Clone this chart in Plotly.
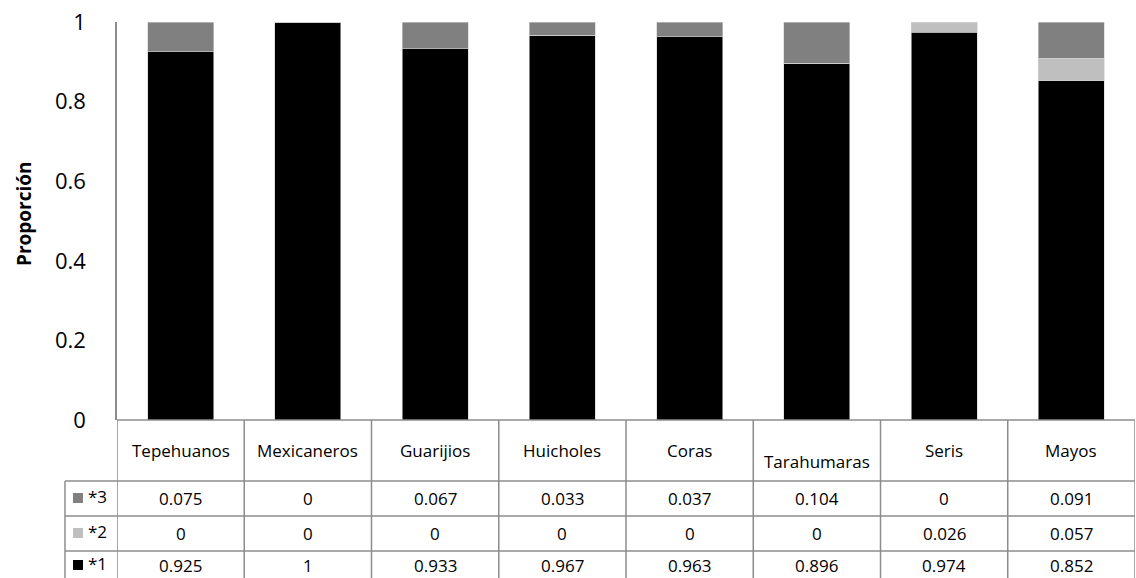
import plotly.graph_objects as go

# Groups and the proportion of each class within them
categories = ["Tepehuanos", "Mexicaneros", "Guarijios", "Huicholes",
              "Coras", "Tarahumaras", "Seris", "Mayos"]
series_names = ["*3", "*2", "*1"]
values_3 = [0.075, 0, 0.067, 0.033, 0.037, 0.104, 0, 0.091]
values_2 = [0, 0, 0, 0, 0, 0, 0.026, 0.057]
values_1 = [0.925, 1, 0.933, 0.967, 0.963, 0.896, 0.974, 0.852]
y_ticks = [0, 0.2, 0.4, 0.6, 0.8, 1]
y_tick_labels = ["0", "0.2", "0.4", "0.6", "0.8", "1"]

colors = {"*1": "#000000", "*2": "#bfbfbf", "*3": "#808080"}

W, H = 1136, 578
M_L, M_R, M_T, M_B = 117, 1, 22, 158
PLOT_H = H - M_T - M_B
FONT = "Open Sans"
TABLE_SIZE = 17
GRID = "#8c8c8c"


def py(pixel_y):
    """Page pixel row -> paper y coordinate."""
    return (H - M_B - pixel_y) / PLOT_H


def px(pixel_x):
    return (pixel_x - M_L) / (W - M_L - M_R)


fig = go.Figure()
for name, vals in [("*1", values_1), ("*2", values_2), ("*3", values_3)]:
    fig.add_trace(go.Bar(
        x=categories, y=vals, name=name,
        marker=dict(color=colors[name], line=dict(color="#d0d0d0", width=0.6)),
        showlegend=False, hoverinfo="x+y+name",
    ))

shapes = []
annotations = []

# table rows (page pixel rows)
header_top, header_bot = 420, 481
row_edges = [481, 516, 551, 586]
row_text_y = [498, 533, 565]
n = len(categories)

# horizontal lines across the data columns
for yy in [header_top] + row_edges[:-1]:
    shapes.append(dict(type="line", xref="x", yref="paper",
                       x0=-0.5, x1=n - 0.5, y0=py(yy), y1=py(yy),
                       line=dict(color=GRID, width=1.5)))
# legend-column horizontal lines
for yy in row_edges[:-1]:
    shapes.append(dict(type="line", xref="paper", yref="paper",
                       x0=px(65), x1=0, y0=py(yy), y1=py(yy),
                       line=dict(color=GRID, width=1.5)))
shapes.append(dict(type="line", xref="paper", yref="paper",
                   x0=px(65), x1=px(65), y0=py(row_edges[0]), y1=py(row_edges[-1]),
                   line=dict(color=GRID, width=1.5)))
# vertical column lines
for i in range(n + 1):
    shapes.append(dict(type="line", xref="x", yref="paper",
                       x0=i - 0.5, x1=i - 0.5, y0=py(header_top), y1=py(row_edges[-1]),
                       line=dict(color=GRID, width=1.5)))

# header labels
for i, c in enumerate(categories):
    yc = 461 if c == "Tarahumaras" else 450
    annotations.append(dict(x=c, xref="x", y=py(yc), yref="paper", text=c,
                            showarrow=False, xanchor="center", yanchor="middle",
                            font=dict(family=FONT, size=TABLE_SIZE, color="#000000")))

# value rows with legend keys
row_series = [("*3", values_3), ("*2", values_2), ("*1", values_1)]
for r, (name, vals) in enumerate(row_series):
    yc = row_text_y[r]
    for i, c in enumerate(categories):
        annotations.append(dict(x=c, xref="x", y=py(yc), yref="paper",
                                text=f"{vals[i]:g}", showarrow=False,
                                xanchor="center", yanchor="middle",
                                font=dict(family=FONT, size=TABLE_SIZE, color="#000000")))
    shapes.append(dict(type="rect", xref="paper", yref="paper",
                       x0=px(73), x1=px(83), y0=py(yc - 5), y1=py(yc + 5),
                       fillcolor=colors[name], line=dict(width=0)))
    annotations.append(dict(x=px(86), xref="paper", y=py(yc - 2), yref="paper",
                            text=name, showarrow=False, xanchor="left",
                            yanchor="middle",
                            font=dict(family=FONT, size=TABLE_SIZE, color="#000000")))

annotations.append(dict(x=px(24), xref="paper", y=py(214), yref="paper",
                        text="<b>Proporción</b>", textangle=-90, showarrow=False,
                        xanchor="center", yanchor="middle",
                        font=dict(family=FONT, size=19, color="#000000")))

fig.update_layout(
    width=W, height=H,
    margin=dict(l=M_L, r=M_R, t=M_T, b=M_B),
    barmode="stack", bargap=0.48,
    plot_bgcolor="white", paper_bgcolor="white",
    font=dict(family=FONT, color="#000000"),
    xaxis=dict(range=[-0.5, n - 0.5], showticklabels=False, showline=False,
               showgrid=False, zeroline=False, ticks=""),
    yaxis=dict(range=[0, 1], tickvals=y_ticks, ticktext=y_tick_labels,
               showgrid=False, zeroline=False, showline=True,
               linecolor=GRID, linewidth=1.5, ticks="",
               ticklabelstandoff=25, tickfont=dict(family=FONT, size=22)),
    shapes=shapes, annotations=annotations,
)

fig.write_html("out.html")
